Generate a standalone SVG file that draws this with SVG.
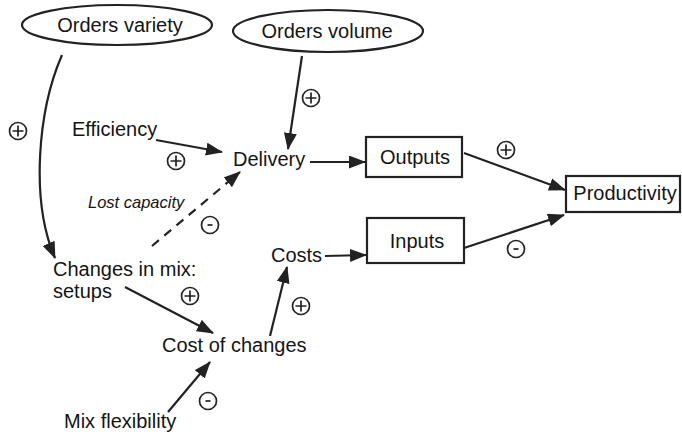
<svg xmlns="http://www.w3.org/2000/svg" width="682" height="434" viewBox="0 0 682 434">
<style>
.t{font-family:"Liberation Sans",Arial,sans-serif;font-size:20px;fill:#151515}
.it{font-family:"Liberation Sans",Arial,sans-serif;font-size:16.5px;font-style:italic;fill:#151515}
.shape{fill:#fff;stroke:#222;stroke-width:2.2}
.c{fill:none;stroke:#222;stroke-width:2.2;marker-end:url(#ah)}
.sg{fill:none;stroke:#222;stroke-width:1.7}
</style>
<defs>
<marker id="ah" markerUnits="userSpaceOnUse" markerWidth="18" markerHeight="14" refX="16" refY="6.5" orient="auto">
<path d="M0,0 L17,6.5 L0,13 z" fill="#222"/>
</marker>
<g id="plus"><circle r="8.5" class="sg"/><path d="M-5.5,0H5.5M0,-5.5V5.5" class="sg"/></g>
<g id="minus"><circle r="8.5" class="sg"/><path d="M-2.5,0H2.5" class="sg"/></g>
</defs>
<rect width="682" height="434" fill="#fff"/>
<g id="connectors">
<path class="c" d="M62,55 C38,110 30,200 55,258"/>
<line class="c" x1="156" y1="140" x2="222" y2="152"/>
<line class="c" x1="302" y1="56" x2="288" y2="149"/>
<line class="c" x1="152" y1="246" x2="240" y2="172" stroke-dasharray="9,7"/>
<line class="c" x1="310" y1="162" x2="365" y2="162"/>
<line class="c" x1="464" y1="153" x2="565" y2="190"/>
<line class="c" x1="464" y1="248" x2="564" y2="215"/>
<line class="c" x1="325" y1="256" x2="366" y2="255"/>
<line class="c" x1="125" y1="287" x2="213" y2="333"/>
<line class="c" x1="270" y1="336" x2="287" y2="267"/>
<line class="c" x1="168" y1="412" x2="210" y2="362"/>
<text class="it" x="88" y="208">Lost capacity</text>
</g>
<g id="signs">
<use href="#plus" x="18" y="131"/>
<use href="#plus" x="311" y="98"/>
<use href="#plus" x="176" y="161"/>
<use href="#minus" x="210" y="225"/>
<use href="#plus" x="506" y="150"/>
<use href="#minus" x="516" y="249"/>
<use href="#plus" x="190" y="296"/>
<use href="#plus" x="301" y="306"/>
<use href="#minus" x="208" y="401"/>
</g>
<g id="orders-variety"><ellipse class="shape" cx="117" cy="25" rx="95" ry="20"/><text class="t" x="120" y="32" text-anchor="middle">Orders variety</text></g>
<g id="orders-volume"><ellipse class="shape" cx="328" cy="31" rx="95" ry="21"/><text class="t" x="327" y="38" text-anchor="middle">Orders volume</text></g>
<g id="efficiency"><text class="t" x="72" y="136">Efficiency</text></g>
<g id="delivery"><text class="t" x="233" y="166">Delivery</text></g>
<g id="outputs"><rect class="shape" x="366" y="137" width="96" height="40"/><text class="t" x="415" y="164" text-anchor="middle">Outputs</text></g>
<g id="productivity"><rect class="shape" x="566" y="176" width="114" height="36"/><text class="t" x="625" y="200" text-anchor="middle">Productivity</text></g>
<g id="inputs"><rect class="shape" x="367" y="218" width="97" height="45"/><text class="t" x="417" y="248" text-anchor="middle">Inputs</text></g>
<g id="costs"><text class="t" x="271" y="262">Costs</text></g>
<g id="changes"><text class="t" x="53" y="276">Changes in mix:</text><text class="t" x="53" y="298">setups</text></g>
<g id="cost-of-changes"><text class="t" x="162" y="352">Cost of changes</text></g>
<g id="mix-flexibility"><text class="t" x="64" y="428">Mix flexibility</text></g>
</svg>
